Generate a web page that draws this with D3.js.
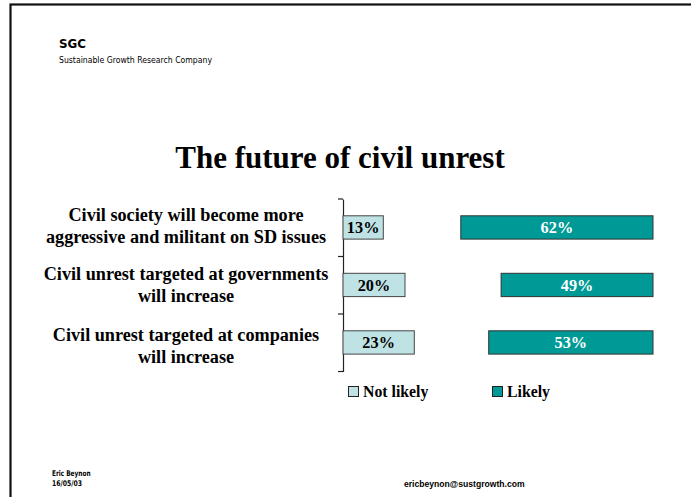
<!DOCTYPE html>
<html>
<head>
<meta charset="utf-8">
<script src="https://cdn.jsdelivr.net/npm/d3@7"></script>
<style>
  html, body { margin: 0; padding: 0; background: #fff; }
  svg { display: block; }
</style>
</head>
<body>
<svg id="chart" width="691" height="497"></svg>
<script>
// Survey results: share of respondents per statement
const categories = [
  ["Civil society will become more", "aggressive and militant on SD issues"],
  ["Civil unrest targeted at governments", "will increase"],
  ["Civil unrest targeted at companies", "will increase"]
];
const notLikely = [13, 20, 23];
const likely = [62, 49, 53];
const seriesNames = ["Not likely", "Likely"];
const seriesColors = ["#bfe3e5", "#009a96"];

const svg = d3.select("#chart");
const serif = "Liberation Serif, Times New Roman, serif";
const smallSans = "DejaVu Sans Condensed, DejaVu Sans, sans-serif";

// slide frame (cropped at right and bottom)
svg.append("rect")
  .attr("x", 10.5).attr("y", 4.5)
  .attr("width", 720).attr("height", 520)
  .attr("fill", "none").attr("stroke", "#111").attr("stroke-width", 2.2);

// header
svg.append("text").attr("x", 59).attr("y", 47.5)
  .attr("font-family", "DejaVu Sans").attr("font-weight", "bold").attr("font-size", 12.5)
  .attr("textLength", 27).attr("lengthAdjust", "spacingAndGlyphs")
  .text("SGC");
svg.append("text").attr("x", 59).attr("y", 63)
  .attr("font-family", smallSans).attr("font-size", 8.2)
  .attr("textLength", 153).attr("lengthAdjust", "spacingAndGlyphs")
  .text("Sustainable Growth Research Company");

// title
svg.append("text").attr("x", 340).attr("y", 168)
  .attr("text-anchor", "middle")
  .attr("font-family", serif).attr("font-weight", "bold").attr("font-size", 31)
  .text("The future of civil unrest");

// scales
const x = d3.scaleLinear().domain([0, 100]).range([343, 653]);
const yBand = d3.scaleBand().domain(d3.range(categories.length)).range([199, 371.5]);
const yc = i => yBand(i) + yBand.bandwidth() / 2 - 0.3;

// category axis
const axis = d3.axisLeft(yBand).tickSize(0).tickFormat("");
const gAxis = svg.append("g").attr("transform", `translate(${x(0)},0)`).call(axis);
gAxis.select(".domain").attr("stroke", "#222").attr("stroke-width", 1.2);
const tickY = [...yBand.domain().map(d => yBand(d)), yBand.range()[1]];
gAxis.selectAll("line.sep").data(tickY).join("line")
  .attr("class", "sep")
  .attr("x1", -5).attr("x2", 0)
  .attr("y1", d => d).attr("y2", d => d)
  .attr("stroke", "#222").attr("stroke-width", 1.2);

// category labels (two-line text boxes to the left of the axis)
const labelShift = [-6, -5, -1];
const labels = svg.append("g")
  .attr("font-family", serif)
  .attr("font-weight", "bold").attr("font-size", 18.2)
  .attr("text-anchor", "middle");
categories.forEach((lines, i) => {
  const base = yc(i) + labelShift[i];
  const t = labels.append("text").attr("x", 186).attr("y", base);
  lines.forEach((ln, k) => {
    t.append("tspan").attr("x", 186).attr("y", base + k * 21.8).text(ln);
  });
});

// bars
const bars = svg.append("g");
const barH = 23.3;
const rows = categories.map((c, i) => ({ i, nl: notLikely[i], lk: likely[i] }));

bars.selectAll("rect.nl").data(rows).join("rect")
  .attr("class", "nl")
  .attr("x", x(0)).attr("y", d => yc(d.i) - barH / 2)
  .attr("width", d => x(d.nl) - x(0)).attr("height", barH)
  .attr("fill", seriesColors[0]).attr("stroke", "#444").attr("stroke-width", 1);

bars.selectAll("rect.lk").data(rows).join("rect")
  .attr("class", "lk")
  .attr("x", d => x(100 - d.lk)).attr("y", d => yc(d.i) - barH / 2)
  .attr("width", d => x(100) - x(100 - d.lk)).attr("height", barH)
  .attr("fill", seriesColors[1]).attr("stroke", "#333").attr("stroke-width", 1);

bars.selectAll("text.nl").data(rows).join("text")
  .attr("class", "nl")
  .attr("x", d => (x(0) + x(d.nl)) / 2).attr("y", d => yc(d.i) + 5.6)
  .attr("text-anchor", "middle")
  .attr("font-family", serif).attr("font-weight", "bold").attr("font-size", 16.3)
  .attr("fill", "#000")
  .text(d => d.nl + "%");

bars.selectAll("text.lk").data(rows).join("text")
  .attr("class", "lk")
  .attr("x", d => (x(100 - d.lk) + x(100)) / 2).attr("y", d => yc(d.i) + 5.6)
  .attr("text-anchor", "middle")
  .attr("font-family", serif).attr("font-weight", "bold").attr("font-size", 16.3)
  .attr("fill", "#fff")
  .text(d => d.lk + "%");

// legend
const legendX = [348, 492];
const legend = svg.append("g");
seriesNames.forEach((name, k) => {
  legend.append("rect")
    .attr("x", legendX[k] + 0.5).attr("y", 386.5)
    .attr("width", 10).attr("height", 10)
    .attr("fill", seriesColors[k]).attr("stroke", "#222").attr("stroke-width", 1);
  legend.append("text")
    .attr("x", legendX[k] + 15).attr("y", 396.5)
    .attr("font-family", serif).attr("font-weight", "bold").attr("font-size", 15.8)
    .text(name);
});

// footer
svg.append("text").attr("x", 52).attr("y", 475.5)
  .attr("font-family", smallSans).attr("font-weight", "bold").attr("font-size", 7.8)
  .attr("textLength", 38.5).attr("lengthAdjust", "spacingAndGlyphs")
  .text("Eric Beynon");
svg.append("text").attr("x", 52).attr("y", 485.5)
  .attr("font-family", smallSans).attr("font-weight", "bold").attr("font-size", 7.8)
  .attr("textLength", 30).attr("lengthAdjust", "spacingAndGlyphs")
  .text("16/05/03");
svg.append("text").attr("x", 404).attr("y", 487)
  .attr("font-family", "Liberation Sans, Arial, sans-serif").attr("font-weight", "bold").attr("font-size", 8.6)
  .text("ericbeynon@sustgrowth.com");
</script>
</body>
</html>
